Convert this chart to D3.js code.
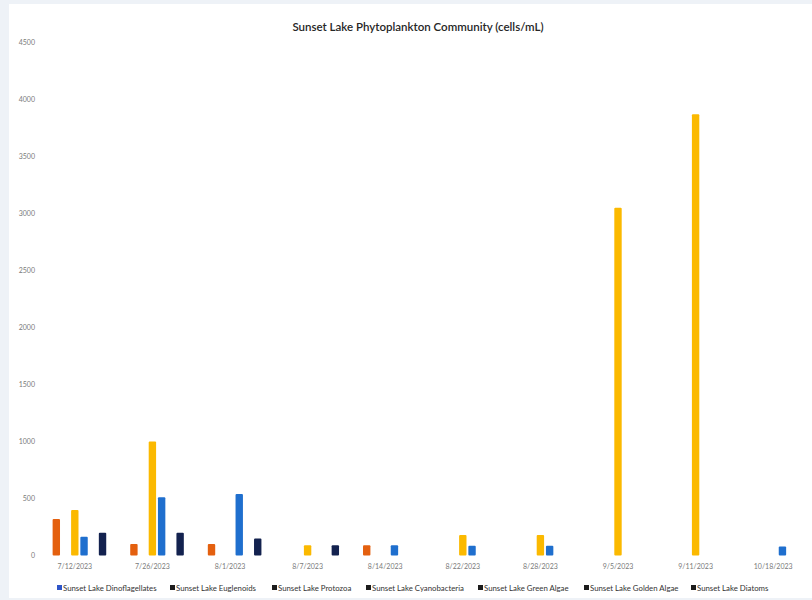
<!DOCTYPE html>
<html>
<head>
<meta charset="utf-8">
<script src="https://cdn.jsdelivr.net/npm/d3@7"></script>
<style>
  html, body { margin: 0; padding: 0; background: #eef2f7; }
  svg { display: block; }
</style>
</head>
<body>
<svg id="chart" width="812" height="600"></svg>
<script>
const title = "Sunset Lake Phytoplankton Community (cells/mL)";
const dates = ["7/12/2023", "7/26/2023", "8/1/2023", "8/7/2023", "8/14/2023",
               "8/22/2023", "8/28/2023", "9/5/2023", "9/11/2023", "10/18/2023"];
const seriesNames = ["Sunset Lake Dinoflagellates", "Sunset Lake Euglenoids", "Sunset Lake Protozoa",
                     "Sunset Lake Cyanobacteria", "Sunset Lake Green Algae", "Sunset Lake Golden Algae",
                     "Sunset Lake Diatoms"];
const dinoflagellates = [0, 0, 0, 0, 0, 0, 0, 0, 0, 0];
const euglenoids      = [320, 100, 100, 0, 90, 0, 0, 0, 0, 0];
const protozoa        = [0, 0, 0, 0, 0, 0, 0, 0, 0, 0];
const cyanobacteria   = [400, 1000, 0, 90, 0, 180, 180, 3050, 3870, 0];
const greenAlgae      = [165, 510, 540, 0, 90, 85, 85, 0, 0, 80];
const goldenAlgae     = [0, 0, 0, 0, 0, 0, 0, 0, 0, 0];
const diatoms         = [200, 200, 150, 90, 0, 0, 0, 0, 0, 0];
const yTicks = [0, 500, 1000, 1500, 2000, 2500, 3000, 3500, 4000, 4500];

const seriesValues = [dinoflagellates, euglenoids, protozoa, cyanobacteria, greenAlgae, goldenAlgae, diatoms];
const barColors = ["#2E55C8", "#E4600F", "#A5A5A5", "#FBB900", "#1F6FCE", "#5E9E3C", "#13224F"];
const legendColors = ["#2E55C8", "#1c1c1c", "#1c1c1c", "#1c1c1c", "#1c1c1c", "#1c1c1c", "#1c1c1c"];

const svg = d3.select("#chart");
svg.append("rect").attr("x", 9).attr("y", 4).attr("width", 803).attr("height", 594).attr("fill", "#ffffff");

const font = "Lato, 'Open Sans', sans-serif";

svg.append("text")
  .attr("x", 418).attr("y", 31)
  .attr("text-anchor", "middle")
  .attr("font-family", font).attr("font-size", 11.5).attr("font-weight", 600)
  .attr("fill", "#262626")
  .text(title);

const x0 = d3.scaleBand().domain(dates).range([36, 812]).paddingInner(0.19).paddingOuter(0.095);
const x1 = d3.scaleBand().domain(d3.range(seriesNames.length)).range([0, x0.bandwidth()]).paddingInner(0.2);
const y = d3.scaleLinear().domain([0, 4500]).range([555.5, 42.5]);

const yAxis = d3.axisLeft(y).tickValues(yTicks).tickFormat(d3.format("d")).tickSize(0).tickPadding(0);
svg.append("g").attr("transform", "translate(35,0)").call(yAxis)
  .call(g => g.select(".domain").remove())
  .call(g => g.selectAll("text").attr("font-family", font).attr("font-size", 7).attr("fill", "#7a7a7a"));

const xAxis = d3.axisBottom(x0).tickSize(0).tickPadding(0);
svg.append("g").attr("transform", "translate(0,564)").call(xAxis)
  .call(g => g.select(".domain").remove())
  .call(g => g.selectAll("text").attr("font-family", font).attr("font-size", 7).attr("fill", "#7a7a7a"));

const groups = svg.append("g").selectAll("g").data(dates).join("g")
  .attr("transform", d => `translate(${x0(d)},0)`);

groups.selectAll("rect")
  .data((d, i) => seriesValues.map((vals, s) => ({ s, v: vals[i] })).filter(e => e.v > 0))
  .join("rect")
  .attr("x", e => x1(e.s))
  .attr("width", x1.bandwidth())
  .attr("y", e => y(e.v))
  .attr("height", e => y(0) - y(e.v))
  .attr("rx", 1)
  .attr("fill", e => barColors[e.s]);

const legendX = [57, 170, 272, 366, 478, 584, 691];
const legend = svg.append("g").selectAll("g").data(seriesNames).join("g")
  .attr("transform", (d, i) => `translate(${legendX[i]},588)`);
legend.append("rect").attr("x", 0).attr("y", -3).attr("width", 5).attr("height", 5)
  .attr("fill", (d, i) => legendColors[i]);
legend.append("text").attr("x", 6).attr("y", 2.5)
  .attr("font-family", font).attr("font-size", 7.8).attr("fill", "#333")
  .text(d => d);
</script>
</body>
</html>
